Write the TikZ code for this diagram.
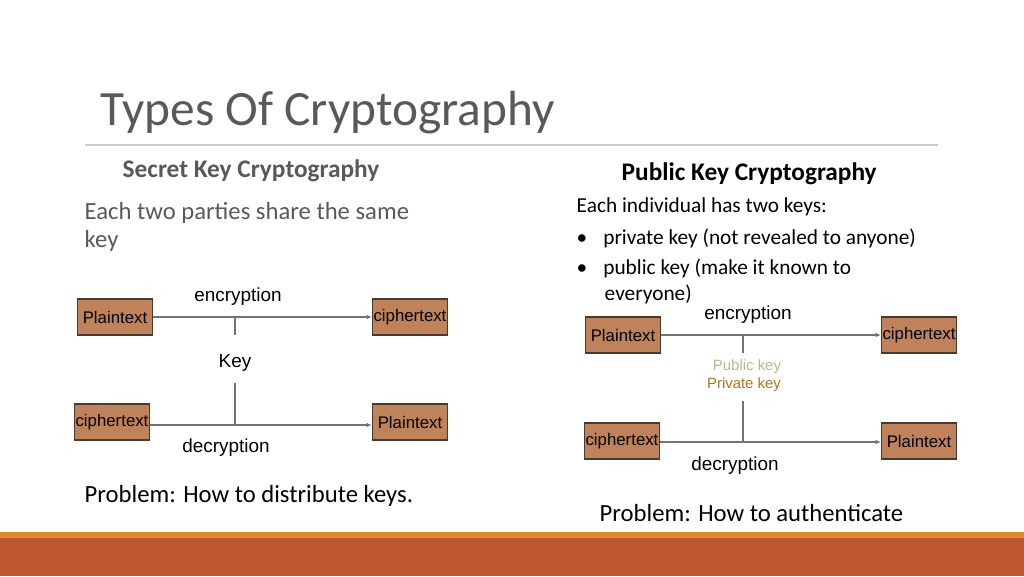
\documentclass[tikz,border=0pt]{standalone}
\usepackage{fontspec}
\setmainfont{Carlito}
\newfontfamily\arialfont{Liberation Sans}
\usetikzlibrary{positioning}
\usetikzlibrary{arrows.meta}
\definecolor{boxfill}{HTML}{C0825A}
\definecolor{boxedge}{HTML}{4A3A2E}
\definecolor{rust}{HTML}{BE5630}
\definecolor{barorange}{HTML}{E08A2E}
\definecolor{titlegray}{HTML}{595959}
\definecolor{pubkey}{HTML}{B8B88E}
\definecolor{privkey}{HTML}{B7711F}

\begin{document}
\begin{tikzpicture}[
  x=0.75pt, y=-0.75pt,
  textbox/.style={draw=boxedge, line width=1.2pt, fill=boxfill, minimum width=56pt, minimum height=27pt, inner sep=0pt, font=\arialfont\fontsize{12.6}{14}\selectfont},
  lbl/.style={font=\arialfont\fontsize{14.2}{16}\selectfont},
  arrow/.style={-{Latex[length=4pt,width=3.5pt]}, draw=gray!90!black, line width=0.8pt},
  keyline/.style={draw=gray!90!black, line width=0.8pt},
  body/.style={font=\fontsize{18.5}{21}\selectfont, anchor=west, align=left}
]
\useasboundingbox (0,0) rectangle (1024,576);

% Title and rule
\node[anchor=west, text=titlegray, font=\fontsize{37}{42}\selectfont] (title) at (96,113) {Types Of Cryptography};
\draw[gray!40, line width=0.8pt] (85,145) -- (938,145);

% Bottom bar
\fill[barorange] (0,532) rectangle (1024,538);
\fill[rust] (0,538) rectangle (1024,576);

% Secret key side
\node[anchor=west, text=titlegray, font=\bfseries\fontsize{19}{22}\selectfont] (skhead) at (118,171) {Secret Key Cryptography};
\node[body, text=titlegray] (sktext) at (80,227) {Each two parties share the same\\key};

\node[textbox] (p1) at (115,317) {Plaintext};
\node[textbox] (c1) at (410,317) {ciphertext};
\node[textbox] (c2) at (112,422) {ciphertext};
\node[textbox] (p2) at (410,422) {Plaintext};
\coordinate (k1) at (235,317);
\coordinate (k1e) at (235,335);
\coordinate (k2) at (235,425);
\coordinate (k2s) at (235,383);
\draw[arrow] (p1) -- (c1);
\draw[arrow] (c2.east |- k2) -- (p2.west |- k2);
\draw[keyline] (k1) -- (k1e);
\draw[keyline] (k2s) -- (k2);
\node[lbl] (enc1) at (238,297) {encryption};
\node[lbl] (key1) at (235,363) {Key};
\node[lbl] (dec1) at (226,448) {decryption};
\node[body] (prob1) at (80,496) {Problem: How to distribute keys.};

% Public key side
\node[anchor=west, font=\bfseries\fontsize{19}{22}\selectfont] (pkhead) at (617,174) {Public Key Cryptography};
\node[anchor=west, font=\fontsize{16}{19}\selectfont] (pktext) at (572,207) {Each individual has two keys:};
\node[anchor=west, font=\fontsize{16}{19}\selectfont] (b1) at (572,238) {\textbullet\hspace{12pt}private key (not revealed to anyone)};
\node[anchor=west, font=\fontsize{16}{19}\selectfont] (b2) at (572,268) {\textbullet\hspace{12pt}public key (make it known to};
\node[anchor=west, font=\fontsize{16}{19}\selectfont] (b3) at (600,294) {everyone)};

\node[textbox] (p3) at (623,335) {Plaintext};
\node[textbox] (c3) at (919,335) {ciphertext};
\node[textbox] (c4) at (622,441) {ciphertext};
\node[textbox] (p4) at (919,441) {Plaintext};
\coordinate (k3) at (743,335);
\coordinate (k3e) at (743,353);
\coordinate (k4) at (743,442);
\coordinate (k4s) at (743,401);
\draw[arrow] (p3) -- (c3);
\draw[arrow] (c4.east |- k4) -- (p4.west |- k4);
\draw[keyline] (k3) -- (k3e);
\draw[keyline] (k4s) -- (k4);
\node[lbl] (enc2) at (748,315) {encryption};
\node[lbl, text=pubkey, font=\arialfont\fontsize{11.2}{13}\selectfont] (pub) at (747,367) {Public key};
\node[lbl, text=privkey, font=\arialfont\fontsize{11.2}{13}\selectfont] (priv) at (744,385) {Private key};
\node[lbl] (dec2) at (735,466) {decryption};
\node[body] (prob2) at (595,513) {Problem: How to authenticate};
\end{tikzpicture}
\end{document}
